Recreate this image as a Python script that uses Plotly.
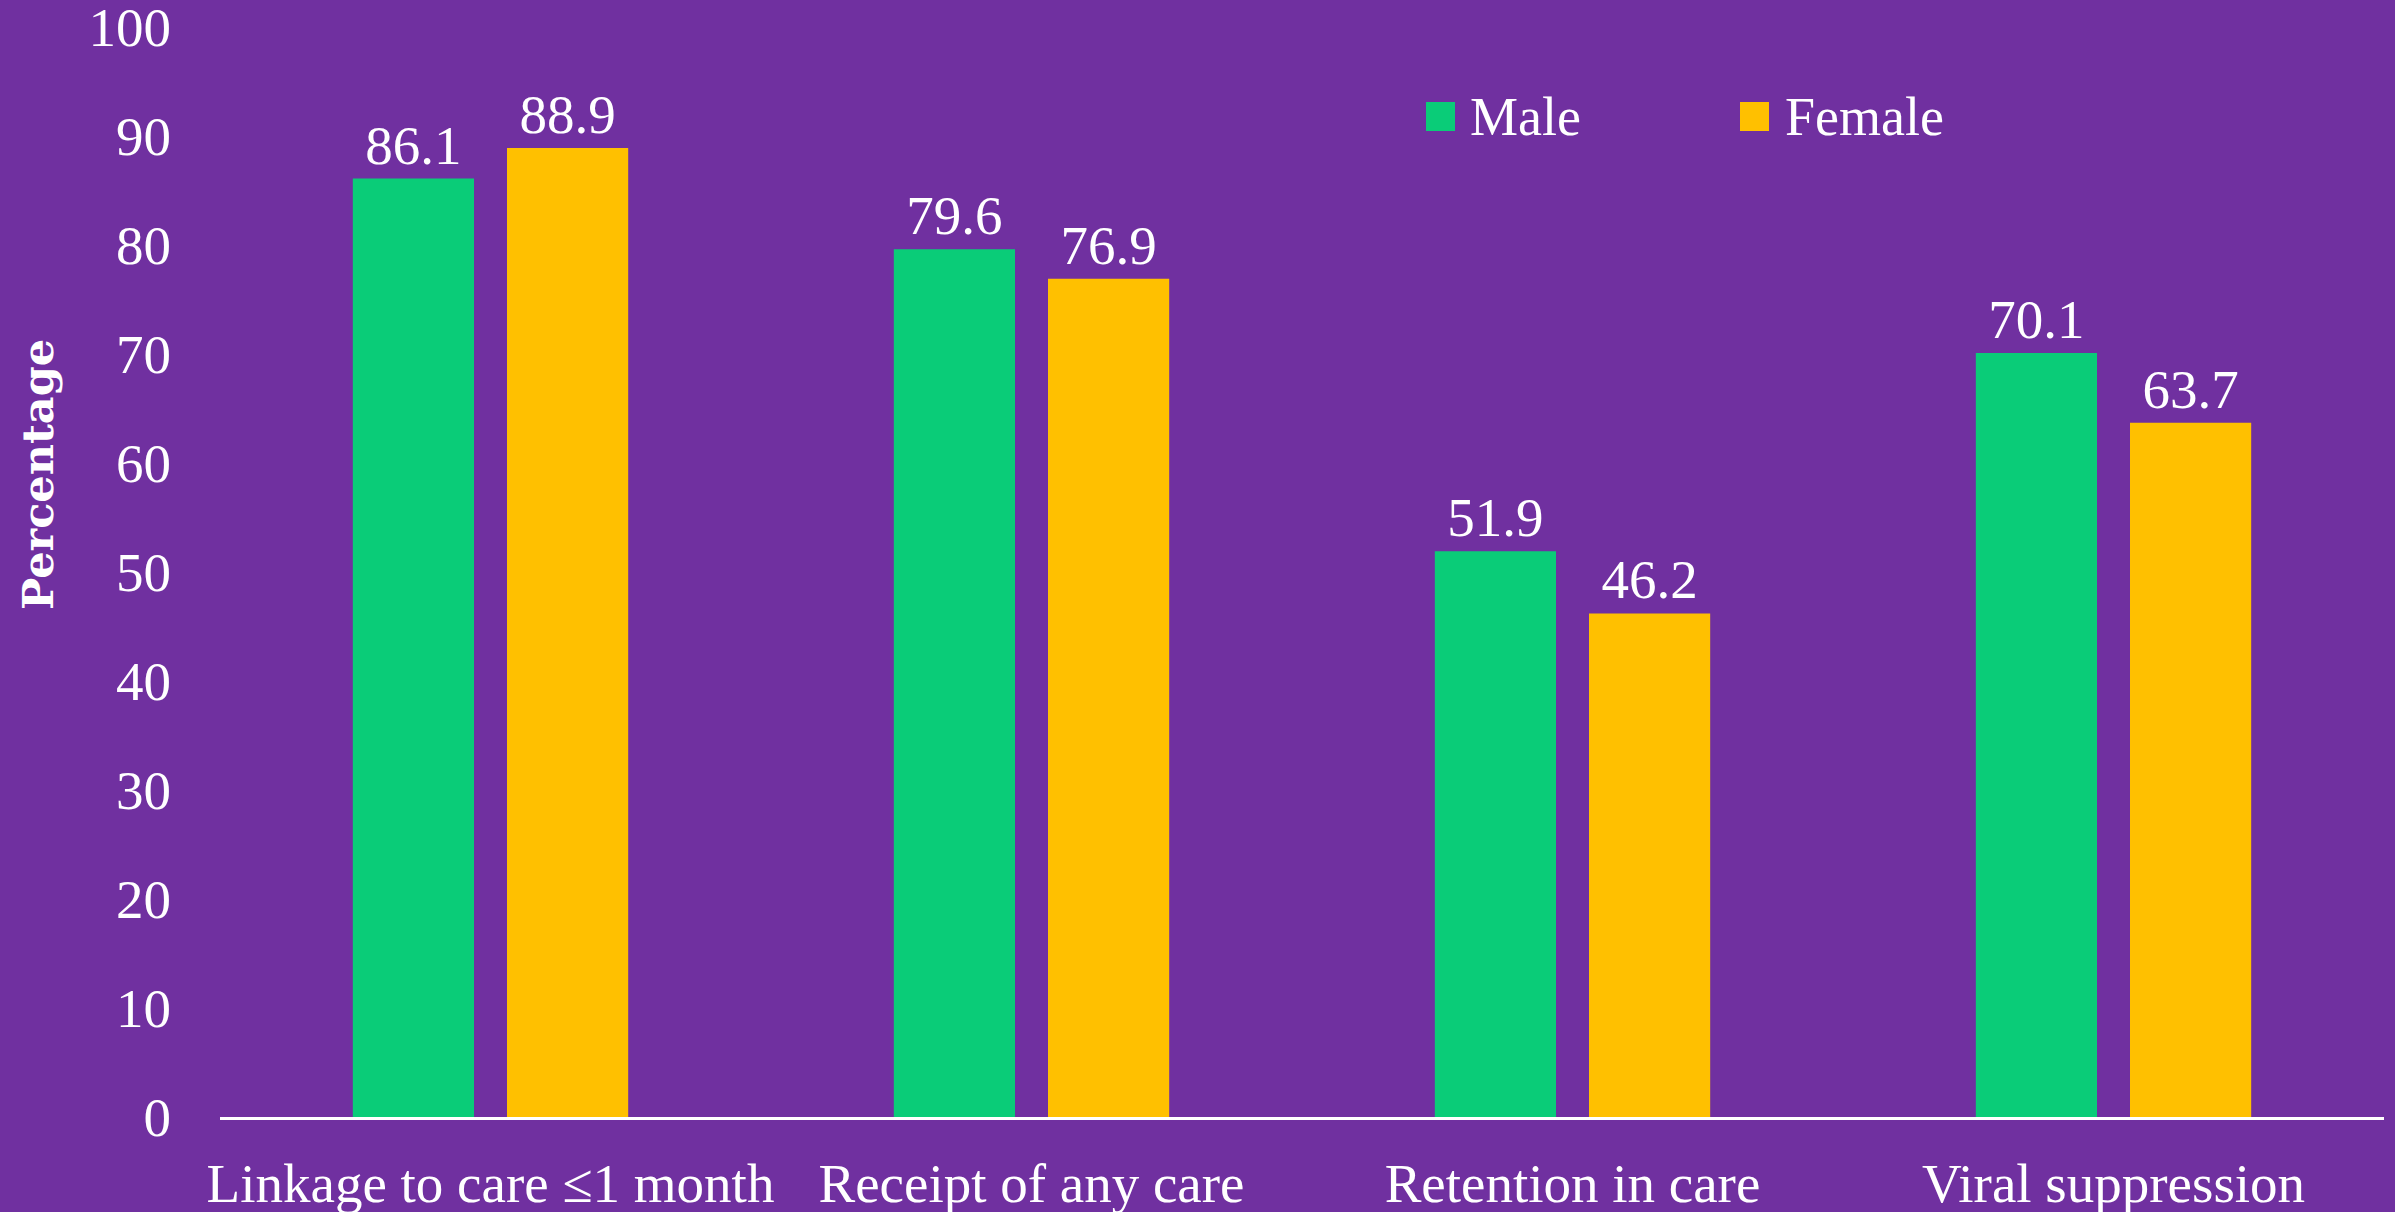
import plotly.graph_objects as go

# data
categories = ["Linkage to care ≤1 month", "Receipt of any care", "Retention in care", "Viral suppression"]
male = [86.1, 79.6, 51.9, 70.1]
female = [88.9, 76.9, 46.2, 63.7]
y_ticks = list(range(0, 101, 10))

BG = "#7030A0"
GREEN = "#0ACC78"
GOLD = "#FFC000"
FONT = "Liberation Serif"

W, H = 2395, 1212
L, R, T, B = 220, 11, 27, 95


def px_x(px):
    return (px - L) / (W - L - R)


def px_y(py):
    return (H - B - py) / (H - T - B)


fig = go.Figure()
fig.add_trace(go.Bar(name="Male", x=categories, y=male, marker_color=GREEN,
                     text=[f"{v:.1f}" for v in male], textposition="outside",
                     cliponaxis=False))
fig.add_trace(go.Bar(name="Female", x=categories, y=female, marker_color=GOLD,
                     text=[f"{v:.1f}" for v in female], textposition="outside",
                     cliponaxis=False))

fig.update_traces(marker_line_width=0,
                  textfont=dict(family=FONT, size=55, color="white"))

fig.update_layout(
    width=W, height=H,
    margin=dict(l=L, r=R, t=T, b=B),
    paper_bgcolor=BG, plot_bgcolor=BG,
    barmode="group", bargap=0.43, bargroupgap=0.214,
    showlegend=False,
    font=dict(family=FONT, color="white", size=55),
    xaxis=dict(showline=True, linecolor="white", linewidth=3, showgrid=False,
               ticks="", tickfont=dict(size=55), ticklabelstandoff=16,
               automargin=False),
    yaxis=dict(range=[0, 100], tickvals=y_ticks, showgrid=False, showline=False,
               zeroline=False, ticks="", tickfont=dict(size=55),
               ticklabelstandoff=48, ticklabeloverflow="allow",
               automargin=False),
)

# y axis title, placed like the original (above plot centre)
fig.add_annotation(text="<b>Percentage</b>", textangle=-90, showarrow=False,
                   xref="paper", yref="paper", x=px_x(38), y=px_y(475),
                   xanchor="center", yanchor="middle",
                   font=dict(family="DejaVu Serif", size=43, color="white"))

# legend drawn by hand so the swatches can be as large as in the original
legend_items = [("Male", GREEN, 1426, 1468), ("Female", GOLD, 1740, 1783)]
for name, color, sx, tx in legend_items:
    fig.add_shape(type="rect", xref="paper", yref="paper",
                  x0=px_x(sx), x1=px_x(sx + 29), y0=px_y(131), y1=px_y(102),
                  fillcolor=color, line_width=0)
    fig.add_annotation(text=name, showarrow=False, xref="paper", yref="paper",
                       x=px_x(tx), y=px_y(117), xanchor="left", yanchor="middle",
                       font=dict(family=FONT, size=54, color="white"))

fig.write_html("out.html", config={"displayModeBar": False},
               post_script="document.body.style.margin='0px';")
